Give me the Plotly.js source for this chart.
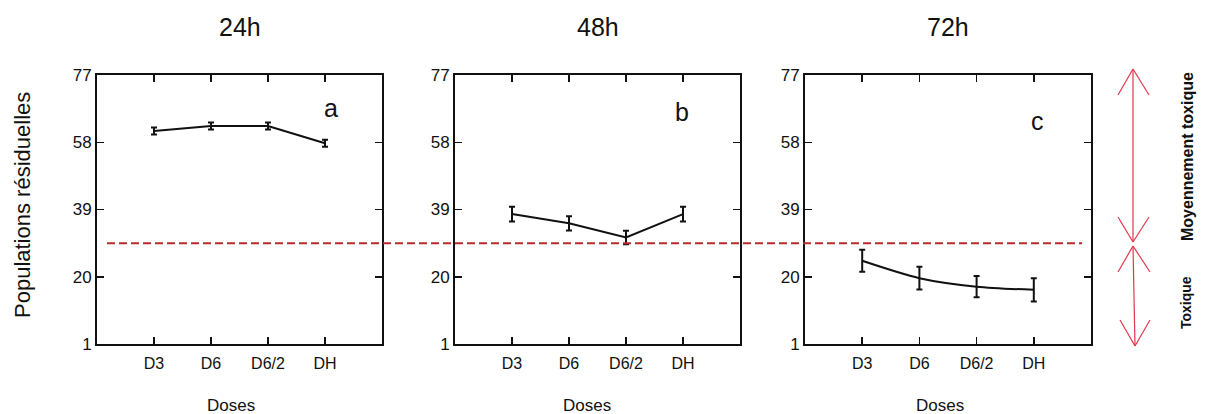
<!DOCTYPE html>
<html>
<head>
<meta charset="utf-8">
<script src="https://cdn.plot.ly/plotly-3.0.1.min.js"></script>
<style>html,body{margin:0;padding:0;background:#fff;}#chart{width:1205px;height:414px;}</style>
</head>
<body>
<div id="chart"></div>
<script>
// ---- data ----
var doses = ["D3", "D6", "D6/2", "DH"];
var panelTitles = ["24h", "48h", "72h"];
var panelLetters = ["a", "b", "c"];
var values24 = [61.2, 62.6, 62.6, 57.7];
var errors24 = [1.0, 1.0, 1.0, 1.0];
var values48 = [37.7, 35.1, 31.1, 37.7];
var errors48 = [2.1, 2.0, 1.9, 2.1];
var values72 = [24.5, 19.6, 17.2, 16.3];
var errors72 = [3.1, 3.2, 3.0, 3.3];
var yTicks = [1, 20, 39, 58, 77];
var threshold = 29.5;
var yTitle = "Populations résiduelles";
var xTitle = "Doses";
var zoneLabels = ["Moyennement toxique", "Toxique"];

var W = 1205, H = 414;
function px(x) { return x / W; }
function py(y) { return 1 - y / H; }

var FONT = "Arial, 'Liberation Sans', sans-serif";
var series = [values24, values48, values72];
var errs = [errors24, errors48, errors72];
var shapesLine = ["linear", "linear", "spline"];

var traces = [];
for (var i = 0; i < 3; i++) {
  var sfx = i === 0 ? "" : String(i + 1);
  traces.push({
    type: "scatter", mode: "lines",
    x: doses, y: series[i],
    xaxis: "x" + sfx, yaxis: "y" + sfx,
    line: { color: "#111", width: 2, shape: shapesLine[i], smoothing: 0.8 },
    error_y: { type: "data", array: errs[i], visible: true, color: "#111", thickness: 2, width: 3 },
    showlegend: false, hoverinfo: "skip"
  });
}

var xDomains = [[px(97), px(382)], [px(455), px(740)], [px(805), px(1091)]];
var yDomain = [py(344), py(75)];

var layout = {
  width: W, height: H,
  margin: { l: 0, r: 0, t: 0, b: 0 },
  paper_bgcolor: "#fff", plot_bgcolor: "#fff",
  showlegend: false,
  font: { family: FONT, color: "#111" },
  shapes: [], annotations: []
};

for (var i = 0; i < 3; i++) {
  var sfx = i === 0 ? "" : String(i + 1);
  layout["xaxis" + sfx] = {
    domain: xDomains[i], anchor: "y" + sfx,
    type: "category", range: [-1, 4],
    showline: true, linecolor: "#111", linewidth: 2, mirror: "ticks",
    ticks: "inside", ticklen: 7, tickwidth: 1.5, tickcolor: "#111",
    showgrid: false, zeroline: false,
    tickfont: { size: 16, family: FONT, color: "#111" },
    ticklabelstandoff: 4,
    fixedrange: true
  };
  layout["yaxis" + sfx] = {
    domain: yDomain, anchor: "x" + sfx,
    range: [1, 77], tickvals: yTicks, ticktext: yTicks.map(String),
    showline: true, linecolor: "#111", linewidth: 2, mirror: "ticks",
    ticks: "inside", ticklen: 7, tickwidth: 1.5, tickcolor: "#111",
    showgrid: false, zeroline: false,
    tickfont: { size: 17, family: FONT, color: "#111" },
    ticklabelstandoff: 0,
    fixedrange: true
  };
  // panel title
  layout.annotations.push({
    text: panelTitles[i], xref: "x" + sfx + " domain", yref: "paper",
    x: 0.5, y: py(27), xanchor: "center", yanchor: "middle",
    showarrow: false, font: { size: 25, family: FONT, color: "#111" }
  });
  // panel letter
  var letterPos = [[3.1, 67.7], [2.98, 66.5], [3.06, 64.0]];
  layout.annotations.push({
    text: panelLetters[i], xref: "x" + sfx, yref: "y" + sfx,
    x: letterPos[i][0], y: letterPos[i][1], xanchor: "center", yanchor: "middle",
    showarrow: false, font: { size: 25, family: FONT, color: "#111" }
  });
}

// x titles
var xTitlePos = [231, 587, 940];
xTitlePos.forEach(function (xp) {
  layout.annotations.push({
    text: xTitle, xref: "paper", yref: "paper",
    x: px(xp), y: py(405), xanchor: "center", yanchor: "middle",
    showarrow: false, font: { size: 17, family: FONT, color: "#111" }
  });
});

// y title
layout.annotations.push({
  text: yTitle, xref: "paper", yref: "paper",
  x: px(22), y: py(205), xanchor: "center", yanchor: "middle", textangle: -90,
  showarrow: false, font: { size: 22, family: FONT, color: "#111" }
});

// threshold dashed line
layout.shapes.push({
  type: "line", xref: "paper", yref: "y",
  x0: px(107), x1: px(1082), y0: threshold, y1: threshold,
  line: { color: "#b82a2a", width: 2, dash: "8px,4px" }
});

// red double arrows (zone indicators)
var RED = "#e0364a";
function seg(x0, y0, x1, y1) {
  layout.shapes.push({
    type: "line", xref: "paper", yref: "paper",
    x0: px(x0), y0: py(y0), x1: px(x1), y1: py(y1),
    line: { color: RED, width: 1.2 }
  });
}
// upper arrow
seg(1133, 69, 1133, 242);
seg(1118, 95, 1133, 69); seg(1149, 95, 1133, 69);
seg(1118, 217, 1133, 242); seg(1149, 217, 1133, 242);
// lower arrow
seg(1133, 246, 1135, 346);
seg(1118, 272, 1133, 246); seg(1150, 272, 1133, 246);
seg(1120, 320, 1135, 346); seg(1150, 320, 1135, 346);

layout.annotations.push({
  text: "<b>" + zoneLabels[0] + "</b>", xref: "paper", yref: "paper",
  x: px(1187), y: py(157), xanchor: "center", yanchor: "middle", textangle: -90,
  showarrow: false, font: { size: 16, family: FONT, color: "#111" }
});
layout.annotations.push({
  text: "<b>" + zoneLabels[1] + "</b>", xref: "paper", yref: "paper",
  x: px(1186), y: py(303), xanchor: "center", yanchor: "middle", textangle: -90,
  showarrow: false, font: { size: 14, family: FONT, color: "#111" }
});

Plotly.newPlot("chart", traces, layout, { displayModeBar: false, staticPlot: true });
</script>
</body>
</html>
